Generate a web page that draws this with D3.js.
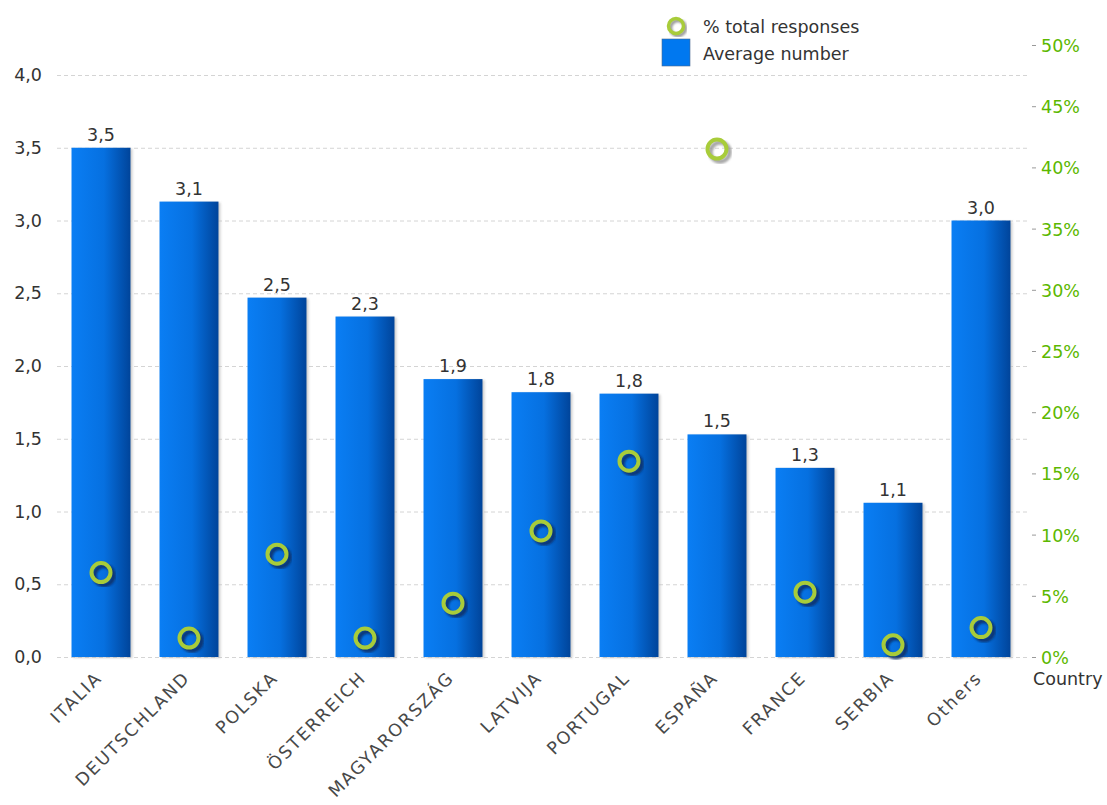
<!DOCTYPE html>
<html>
<head>
<meta charset="utf-8">
<script src="https://cdn.jsdelivr.net/npm/d3@7"></script>
<style>
  body { margin: 0; background: #fff; }
  svg text { font-family: "DejaVu Sans", Verdana, sans-serif; }
</style>
</head>
<body>
<div id="chart"></div>
<script>
const countries = ['ITALIA', 'DEUTSCHLAND', 'POLSKA', 'ÖSTERREICH', 'MAGYARORSZÁG',
  'LATVIJA', 'PORTUGAL', 'ESPAÑA', 'FRANCE', 'SERBIA', 'Others'];
const averageNumber = [3.50, 3.13, 2.47, 2.34, 1.91, 1.82, 1.81, 1.53, 1.30, 1.06, 3.00];
const pctResponses = [6.9, 1.55, 8.4, 1.55, 4.4, 10.3, 16.0, 41.5, 5.3, 1.0, 2.4];
const leftTicks = [0, 0.5, 1, 1.5, 2, 2.5, 3, 3.5, 4];
const rightTicks = [0, 5, 10, 15, 20, 25, 30, 35, 40, 45, 50];

const width = 1107, height = 805;
const margin = { top: 45, right: 82, bottom: 148, left: 57 };
const plotW = width - margin.left - margin.right;
const plotH = height - margin.top - margin.bottom;
const fmt = d3.format('.1f');
const comma = v => fmt(v).replace('.', ',');

const svg = d3.select('#chart').append('svg')
  .attr('width', width).attr('height', height);

const defs = svg.append('defs');
const grad = defs.append('linearGradient').attr('id', 'barGrad')
  .attr('x1', '0%').attr('x2', '100%');
grad.append('stop').attr('offset', '0%').attr('stop-color', '#0a7ef4');
grad.append('stop').attr('offset', '55%').attr('stop-color', '#0670e0');
grad.append('stop').attr('offset', '100%').attr('stop-color', '#00449a');
defs.append('filter').attr('id', 'blur')
  .append('feGaussianBlur').attr('stdDeviation', 1.2);

const x = d3.scaleBand().domain(countries).range([0, plotW]).paddingInner(0.33).paddingOuter(0.165);
const yL = d3.scaleLinear().domain([0, 4]).range([plotH, plotH - 4 * 145.5]);
const yR = d3.scaleLinear().domain([0, 50]).range([plotH, plotH - 612]);

const g = svg.append('g').attr('transform', `translate(${margin.left},${margin.top})`);

// grid
g.append('g').selectAll('line').data(leftTicks).join('line')
  .attr('x1', 0).attr('x2', plotW + 3)
  .attr('y1', d => yL(d) + 0.5).attr('y2', d => yL(d) + 0.5)
  .attr('stroke', '#d4d4d4').attr('stroke-dasharray', '4,3');

// left axis labels
g.append('g').selectAll('text').data(leftTicks).join('text')
  .attr('x', -15).attr('y', d => yL(d) + 6)
  .attr('text-anchor', 'end').attr('font-size', 17.5).attr('fill', '#333')
  .text(comma);

// right axis
const right = g.append('g').attr('transform', `translate(${plotW + 3},0)`);
right.selectAll('line').data(rightTicks).join('line')
  .attr('x1', 4).attr('x2', 8)
  .attr('y1', d => yR(d) + 0.5).attr('y2', d => yR(d) + 0.5)
  .attr('stroke', '#999');
right.selectAll('text').data(rightTicks).join('text')
  .attr('x', 13).attr('y', d => yR(d) + 7)
  .attr('font-size', 17.5).attr('fill', '#5cb800')
  .text(d => d + '%');

// bars
const bars = g.append('g').selectAll('g').data(countries).join('g');
bars.append('rect')
  .attr('x', d => x(d) + 2).attr('width', x.bandwidth())
  .attr('y', (d, i) => yL(averageNumber[i]) + 1)
  .attr('height', (d, i) => plotH - yL(averageNumber[i]))
  .attr('fill', '#bbb').attr('filter', 'url(#blur)').attr('opacity', 0.7);
bars.append('rect')
  .attr('x', d => x(d)).attr('width', x.bandwidth())
  .attr('y', (d, i) => yL(averageNumber[i]))
  .attr('height', (d, i) => plotH - yL(averageNumber[i]))
  .attr('fill', 'url(#barGrad)');
bars.append('text')
  .attr('x', d => x(d) + x.bandwidth() / 2)
  .attr('y', (d, i) => yL(averageNumber[i]) - 7)
  .attr('text-anchor', 'middle').attr('font-size', 17.5).attr('fill', '#333')
  .text((d, i) => comma(averageNumber[i]));

// circles
const dots = g.append('g').selectAll('g').data(countries).join('g')
  .attr('transform', (d, i) => `translate(${x(d) + x.bandwidth() / 2},${yR(pctResponses[i])})`);
dots.append('circle').attr('cx', 3).attr('cy', 3).attr('r', 9.5)
  .attr('fill', 'none').attr('stroke', (d, i) => pctResponses[i] > 30 ? '#9a9a9a' : '#0c2f66')
  .attr('stroke-width', 4.5).attr('filter', 'url(#blur)').attr('opacity', 0.85);
dots.append('circle').attr('r', 9.5)
  .attr('fill', 'none').attr('stroke', '#a8cc3a').attr('stroke-width', 4);

// x labels
g.append('g').selectAll('text').data(countries).join('text')
  .attr('transform', d => `translate(${x(d) + x.bandwidth() / 2 + 2},${plotH + 22}) rotate(-45)`)
  .attr('text-anchor', 'end').attr('font-size', 17.5).attr('letter-spacing', 1.8)
  .attr('fill', '#484848')
  .text(d => d);

g.append('text').attr('x', plotW + 8).attr('y', plotH + 28)
  .attr('font-size', 17.5).attr('fill', '#333').text('Country');

// legend
const leg = svg.append('g');
leg.append('circle').attr('cx', 678).attr('cy', 28).attr('r', 7.5)
  .attr('fill', 'none').attr('stroke', '#9a9a9a').attr('stroke-width', 3.5)
  .attr('filter', 'url(#blur)');
leg.append('circle').attr('cx', 676).attr('cy', 26).attr('r', 7.5)
  .attr('fill', 'none').attr('stroke', '#a8cc3a').attr('stroke-width', 3.5);
leg.append('rect').attr('x', 662).attr('y', 39).attr('width', 28).attr('height', 27)
  .attr('fill', '#0078f0').attr('stroke', '#4a6a90').attr('stroke-width', 0.6);
leg.append('text').attr('x', 703).attr('y', 33).attr('font-size', 17.5).attr('fill', '#333')
  .text('% total responses');
leg.append('text').attr('x', 703).attr('y', 60).attr('font-size', 17.5).attr('fill', '#333')
  .text('Average number');
</script>
</body>
</html>
